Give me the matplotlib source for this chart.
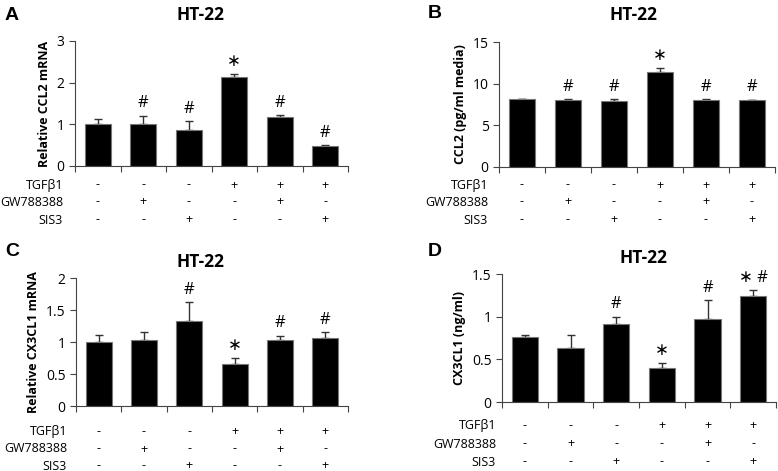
import matplotlib.pyplot as plt
import numpy as np

plt.rcParams['font.family'] = ['Open Sans', 'DejaVu Sans']

conditions = ['TGFβ1', 'GW788388', 'SIS3']
signs = [['-', '-', '-', '+', '+', '+'],
         ['-', '+', '-', '-', '+', '-'],
         ['-', '-', '+', '-', '-', '+']]

a_vals = [1.0, 1.0, 0.86, 2.13, 1.17, 0.49]
a_err = [0.12, 0.21, 0.22, 0.08, 0.06, 0.02]
a_marks = ['', '#', '#', '*', '#', '#']

b_vals = [8.1, 8.0, 7.95, 11.35, 8.0, 8.0]
b_err = [0.1, 0.15, 0.2, 0.5, 0.15, 0.08]
b_marks = ['', '#', '#', '*', '#', '#']

c_vals = [1.0, 1.03, 1.33, 0.65, 1.03, 1.06]
c_err = [0.11, 0.13, 0.29, 0.1, 0.07, 0.09]
c_marks = ['', '', '#', '*', '#', '#']

d_vals = [0.76, 0.63, 0.91, 0.395, 0.97, 1.24]
d_err = [0.03, 0.15, 0.09, 0.06, 0.22, 0.07]
d_marks = ['', '', '#', '*', '#', '* #']

W, H = 778, 471
fig = plt.figure(figsize=(W / 100, H / 100), dpi=100)


def box(l, r, t, b):
    return [l / W, 1 - b / H, (r - l) / W, (b - t) / H]


panels = [
    dict(letter='A', pos=box(75, 348, 41, 166), vals=a_vals, err=a_err, marks=a_marks,
         ymax=3, ticks=[0, 1, 2, 3], tlab=['0', '1', '2', '3'], ylabel='Relative CCL2 mRNA',
         lx=5, ly=15, tx=200, ty=15, labx=63, rows=[185, 202, 220]),
    dict(letter='B', pos=box(499, 775, 42, 167), vals=b_vals, err=b_err, marks=b_marks,
         ymax=15, ticks=[0, 5, 10, 15], tlab=['0', '5', '10', '15'], ylabel='CCL2 (pg/ml media)',
         lx=428, ly=13, tx=633, ty=15, labx=488, rows=[185, 202, 220]),
    dict(letter='C', pos=box(76, 348, 278, 406), vals=c_vals, err=c_err, marks=c_marks,
         ymax=2, ticks=[0, 0.5, 1, 1.5, 2], tlab=['0', '0.5', '1', '1.5', '2'],
         ylabel='Relative CX3CL1 mRNA',
         lx=5, ly=251, tx=200, ty=262, labx=67, rows=[432, 449, 466]),
    dict(letter='D', pos=box(502, 776, 274, 402), vals=d_vals, err=d_err, marks=d_marks,
         ymax=1.5, ticks=[0, 0.5, 1, 1.5], tlab=['0', '0.5', '1', '1.5'], ylabel='CX3CL1 (ng/ml)',
         lx=428, ly=251, tx=643, ty=258, labx=496, rows=[426, 444, 462]),
]

x = np.arange(6)
for p in panels:
    ax = fig.add_axes(p['pos'])
    ax.bar(x, p['vals'], width=0.58, color='black', edgecolor='#777777', linewidth=0.8, zorder=2)
    ax.errorbar(x, p['vals'], yerr=[np.zeros(6), p['err']], fmt='none', ecolor='#333333',
                elinewidth=1, capsize=3, capthick=1, zorder=1)
    for xi, v, e, m in zip(x, p['vals'], p['err'], p['marks']):
        if m:
            ax.annotate(m.replace('*', '∗'), (xi, v + e), xytext=(0, 3), textcoords='offset points',
                        ha='center', va='bottom', fontsize=12,
                        family=['Open Sans', 'DejaVu Sans'])
    ax.set_xlim(-0.5, 5.5)
    ax.set_ylim(0, p['ymax'])
    ax.set_yticks(p['ticks'])
    ax.set_yticklabels(p['tlab'], fontsize=10)
    ax.set_xticks(np.arange(-0.5, 6, 1))
    ax.set_xticklabels([])
    ax.tick_params(axis='both', direction='out', length=4, width=0.8, color='#444444')
    for s in ['top', 'right']:
        ax.spines[s].set_visible(False)
    for s in ['left', 'bottom']:
        ax.spines[s].set_color('#444444')
        ax.spines[s].set_linewidth(0.8)
    ax.set_ylabel(p['ylabel'], fontsize=9, fontweight='bold', labelpad=4)
    fig.text(p['lx'] / W, 1 - p['ly'] / H, p['letter'], fontsize=14, fontweight='bold',
             ha='left', va='center', family=['Liberation Sans'])
    fig.text(p['tx'] / W, 1 - p['ty'] / H, 'HT-22', fontsize=12.5, fontweight='bold',
             ha='center', va='center')
    # treatment table under the axis
    l, bpos, w, h = p['pos']
    for r, (name, row) in enumerate(zip(conditions, signs)):
        yy = 1 - p['rows'][r] / H
        fig.text(p['labx'] / W, yy, name, fontsize=9, ha='right', va='center')
        for i, sgn in enumerate(row):
            xf = l + w * (i + 0.5) / 6
            fig.text(xf, yy, sgn, fontsize=9, ha='center', va='center')

fig.savefig('out.png', dpi=100)
